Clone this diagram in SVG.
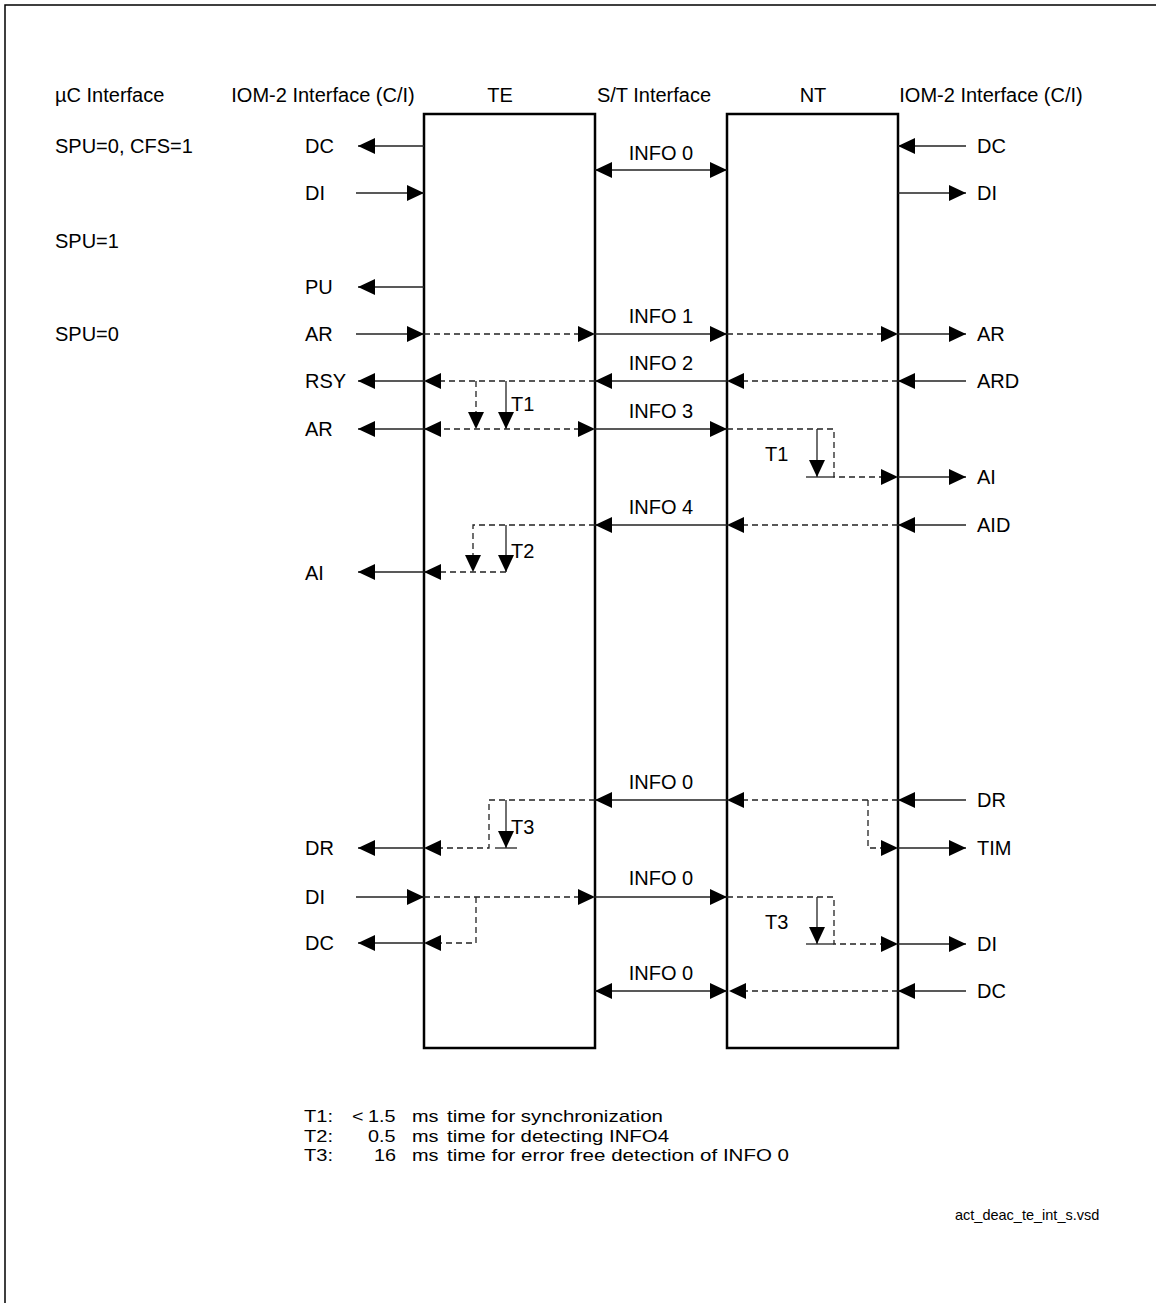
<svg xmlns="http://www.w3.org/2000/svg" width="1156" height="1303" viewBox="0 0 1156 1303">
<style>
text{font-family:"Liberation Sans",Arial,sans-serif;font-size:20px;fill:#000}
.c{text-anchor:middle}
.lg{font-size:17px}
.fn{font-size:14.5px}
.box{fill:#fff;stroke:#000;stroke-width:2.5}
.s{fill:none;stroke:#222;stroke-width:1.3}
.d{fill:none;stroke:#222;stroke-width:1.3;stroke-dasharray:6 4}
.e{marker-end:url(#ah)}
.b{marker-start:url(#ah);marker-end:url(#ah)}
.frame{stroke:#000;stroke-width:1.5;fill:none}
</style>
<defs>
<marker id="ah" viewBox="0 0 17 16" refX="17" refY="8" markerWidth="17" markerHeight="16" markerUnits="userSpaceOnUse" orient="auto-start-reverse">
<path d="M0,0 L17,8 L0,16 z" fill="#000"/>
</marker>
</defs>
<rect width="1156" height="1303" fill="#fff"/>
<path class="frame" d="M5,1303 V5 H1156"/>

<g id="headers">
<text x="55" y="102">µC Interface</text>
<text class="c" x="323" y="102">IOM-2 Interface (C/I)</text>
<text class="c" x="500" y="102">TE</text>
<text class="c" x="654" y="102">S/T Interface</text>
<text class="c" x="813" y="102">NT</text>
<text class="c" x="991" y="102">IOM-2 Interface (C/I)</text>
</g>

<g id="uc-labels">
<text x="55" y="153">SPU=0, CFS=1</text>
<text x="55" y="248">SPU=1</text>
<text x="55" y="341">SPU=0</text>
</g>

<g id="te">
<rect class="box" x="424" y="114" width="171" height="934"/>
</g>
<g id="nt">
<rect class="box" x="727" y="114" width="171" height="934"/>
</g>

<g id="connectors">
<!-- top -->
<path class="s e" d="M424,146 H358"/>
<path class="s e" d="M356,193 H424"/>
<path class="s e" d="M424,287 H358"/>
<path class="s b" d="M595,170 H727"/>
<path class="s e" d="M966,146 H898"/>
<path class="s e" d="M898,193 H966"/>
<!-- AR -->
<path class="s e" d="M356,334 H424"/>
<path class="d e" d="M424,334 H595"/>
<path class="s e" d="M595,334 H727"/>
<path class="d e" d="M727,334 H898"/>
<path class="s e" d="M898,334 H966"/>
<!-- RSY / ARD -->
<path class="s e" d="M966,381 H898"/>
<path class="d e" d="M898,381 H727"/>
<path class="s e" d="M727,381 H595"/>
<path class="d e" d="M595,381 H424"/>
<path class="s e" d="M424,381 H358"/>
<path class="d e" d="M476,381 V429"/>
<path class="s e" d="M506,381 V429"/>
<!-- AR 2 -->
<path class="s e" d="M424,429 H358"/>
<path class="d b" d="M424,429 H595"/>
<path class="s e" d="M595,429 H727"/>
<path class="d e" d="M727,429 H834 V477 H898"/>
<path class="s e" d="M817,429 V477"/>
<path class="s" d="M806,477 H834"/>
<path class="s e" d="M898,477 H966"/>
<!-- AID / AI -->
<path class="s e" d="M966,525 H898"/>
<path class="d e" d="M898,525 H727"/>
<path class="s e" d="M727,525 H595"/>
<path class="d e" d="M595,525 H473 V572"/>
<path class="s e" d="M506,525 V572"/>
<path class="d e" d="M506,572 H424"/>
<path class="s e" d="M424,572 H358"/>
<!-- DR -->
<path class="s e" d="M966,800 H898"/>
<path class="d e" d="M898,800 H727"/>
<path class="s e" d="M727,800 H595"/>
<path class="d e" d="M595,800 H489 V848 H424"/>
<path class="s e" d="M506,800 V848"/>
<path class="s" d="M495,848 H517"/>
<path class="s e" d="M424,848 H358"/>
<path class="d e" d="M868,800 V848 H898"/>
<path class="s e" d="M898,848 H966"/>
<!-- DI -->
<path class="s e" d="M356,897 H424"/>
<path class="d e" d="M424,897 H595"/>
<path class="s e" d="M595,897 H727"/>
<path class="d e" d="M476,897 V943 H424"/>
<path class="s e" d="M424,943 H358"/>
<path class="d e" d="M727,897 H834 V944 H898"/>
<path class="s e" d="M817,897 V944"/>
<path class="s" d="M806,944 H834"/>
<path class="s e" d="M898,944 H966"/>
<!-- DC bottom -->
<path class="s b" d="M595,991 H727"/>
<path class="s e" d="M966,991 H898"/>
<path class="d e" d="M898,991 H729"/>
</g>

<g id="te-labels">
<text x="305" y="153">DC</text>
<text x="305" y="200">DI</text>
<text x="305" y="294">PU</text>
<text x="305" y="341">AR</text>
<text x="305" y="388">RSY</text>
<text x="305" y="436">AR</text>
<text x="305" y="580">AI</text>
<text x="305" y="855">DR</text>
<text x="305" y="904">DI</text>
<text x="305" y="950">DC</text>
<text x="511" y="411">T1</text>
<text x="511" y="558">T2</text>
<text x="511" y="834">T3</text>
</g>

<g id="nt-labels">
<text x="977" y="153">DC</text>
<text x="977" y="200">DI</text>
<text x="977" y="341">AR</text>
<text x="977" y="388">ARD</text>
<text x="977" y="484">AI</text>
<text x="977" y="532">AID</text>
<text x="977" y="807">DR</text>
<text x="977" y="855">TIM</text>
<text x="977" y="951">DI</text>
<text x="977" y="998">DC</text>
<text x="765" y="461">T1</text>
<text x="765" y="929">T3</text>
</g>

<g id="st-labels">
<text class="c" x="661" y="160">INFO 0</text>
<text class="c" x="661" y="323">INFO 1</text>
<text class="c" x="661" y="370">INFO 2</text>
<text class="c" x="661" y="418">INFO 3</text>
<text class="c" x="661" y="514">INFO 4</text>
<text class="c" x="661" y="789">INFO 0</text>
<text class="c" x="661" y="885">INFO 0</text>
<text class="c" x="661" y="980">INFO 0</text>
</g>

<g id="legend">
<text class="lg" x="304" y="1122" textLength="29" lengthAdjust="spacingAndGlyphs">T1:</text>
<text class="lg" x="352" y="1122" textLength="11.5" lengthAdjust="spacingAndGlyphs">&lt;</text>
<text class="lg" x="368" y="1122" textLength="27.5" lengthAdjust="spacingAndGlyphs">1.5</text>
<text class="lg" x="412" y="1122" textLength="26.5" lengthAdjust="spacingAndGlyphs">ms</text>
<text class="lg" x="447" y="1122" textLength="216" lengthAdjust="spacingAndGlyphs">time for synchronization</text>
<text class="lg" x="304" y="1141.5" textLength="29" lengthAdjust="spacingAndGlyphs">T2:</text>
<text class="lg" x="368" y="1141.5" textLength="27.5" lengthAdjust="spacingAndGlyphs">0.5</text>
<text class="lg" x="412" y="1141.5" textLength="26.5" lengthAdjust="spacingAndGlyphs">ms</text>
<text class="lg" x="447" y="1141.5" textLength="222" lengthAdjust="spacingAndGlyphs">time for detecting INFO4</text>
<text class="lg" x="304" y="1161" textLength="29" lengthAdjust="spacingAndGlyphs">T3:</text>
<text class="lg" x="374" y="1161" textLength="22" lengthAdjust="spacingAndGlyphs">16</text>
<text class="lg" x="412" y="1161" textLength="26.5" lengthAdjust="spacingAndGlyphs">ms</text>
<text class="lg" x="447" y="1161" textLength="342" lengthAdjust="spacingAndGlyphs">time for error free detection of INFO 0</text>
</g>

<g id="filename">
<text class="fn" x="955" y="1220">act_deac_te_int_s.vsd</text>
</g>
</svg>
